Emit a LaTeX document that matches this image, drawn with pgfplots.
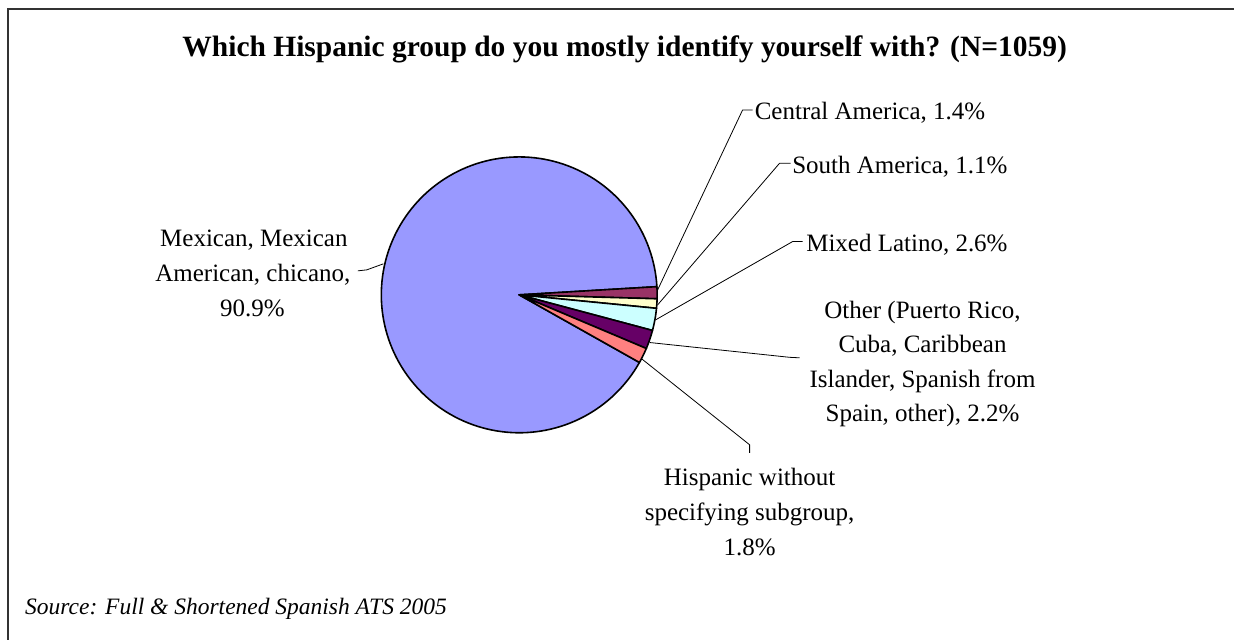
\documentclass[border=0pt]{standalone}
\usepackage{pgfplots}
\pgfplotsset{compat=1.18}
\usepackage{pgfplotstable}
\usepackage{fontspec}
\setmainfont{Liberation Serif}
\definecolor{cMex}{HTML}{9999FF}
\definecolor{cCen}{HTML}{993366}
\definecolor{cSou}{HTML}{FFFFCC}
\definecolor{cMix}{HTML}{CCFFFF}
\definecolor{cOth}{HTML}{660066}
\definecolor{cHis}{HTML}{FF8080}

\pgfplotstableread{
group pct
Mexican 90.9
Central 1.4
South 1.1
Mixed 2.6
Other 2.2
Hispanic 1.8
}\piedata

\begin{document}
\begin{tikzpicture}[lab/.style={font=\fontsize{25}{30}\selectfont, inner sep=0pt}]
\pgfplotstablegetelem{0}{pct}\of\piedata \let\pMex\pgfplotsretval
\pgfplotstablegetelem{1}{pct}\of\piedata \let\pCen\pgfplotsretval
\pgfplotstablegetelem{2}{pct}\of\piedata \let\pSou\pgfplotsretval
\pgfplotstablegetelem{3}{pct}\of\piedata \let\pMix\pgfplotsretval
\pgfplotstablegetelem{4}{pct}\of\piedata \let\pOth\pgfplotsretval
\pgfplotstablegetelem{5}{pct}\of\piedata \let\pHis\pgfplotsretval
\pgfmathsetmacro\aA{3.4}
\pgfmathsetmacro\aB{\aA-3.6*\pCen}
\pgfmathsetmacro\aC{\aB-3.6*\pSou}
\pgfmathsetmacro\aD{\aC-3.6*\pMix}
\pgfmathsetmacro\aE{\aD-3.6*\pOth}
\pgfmathsetmacro\aF{\aE-3.6*\pHis}
\pgfmathsetmacro\aG{\aF-3.6*\pMex}
\def\cx{519.5}\def\cy{345}\def\R{138}
\begin{axis}[x=1pt, y=1pt, xmin=0, xmax=1235, ymin=0, ymax=640,
  hide axis, clip=false]
\path (axis cs:0,0) rectangle (axis cs:1235,640);
\draw[line width=1.3pt, black!80] (axis cs:8,0) -- (axis cs:8,631) -- (axis cs:1235,631);
% pie slices
\addplot[fill=cMex, draw=black, line width=1.6pt, line join=round, domain=\aG:\aF, samples=160, variable=\t]
  ({\cx+\R*cos(\t)},{\cy+\R*sin(\t)}) -- (axis cs:\cx,\cy) -- cycle;
\addplot[fill=cCen, draw=black, line width=1.6pt, line join=round, domain=\aB:\aA, samples=10, variable=\t]
  ({\cx+\R*cos(\t)},{\cy+\R*sin(\t)}) -- (axis cs:\cx,\cy) -- cycle;
\addplot[fill=cSou, draw=black, line width=1.6pt, line join=round, domain=\aC:\aB, samples=10, variable=\t]
  ({\cx+\R*cos(\t)},{\cy+\R*sin(\t)}) -- (axis cs:\cx,\cy) -- cycle;
\addplot[fill=cMix, draw=black, line width=1.6pt, line join=round, domain=\aD:\aC, samples=12, variable=\t]
  ({\cx+\R*cos(\t)},{\cy+\R*sin(\t)}) -- (axis cs:\cx,\cy) -- cycle;
\addplot[fill=cOth, draw=black, line width=1.6pt, line join=round, domain=\aE:\aD, samples=12, variable=\t]
  ({\cx+\R*cos(\t)},{\cy+\R*sin(\t)}) -- (axis cs:\cx,\cy) -- cycle;
\addplot[fill=cHis, draw=black, line width=1.6pt, line join=round, domain=\aF:\aE, samples=10, variable=\t]
  ({\cx+\R*cos(\t)},{\cy+\R*sin(\t)}) -- (axis cs:\cx,\cy) -- cycle;
% leader lines
\draw[line width=0.8pt] (axis cs:658,350) -- (axis cs:743,530) -- (axis cs:753,530);
\draw[line width=0.8pt] (axis cs:658,335) -- (axis cs:780,476.7) -- (axis cs:791,476.7);
\draw[line width=0.8pt] (axis cs:656,320) -- (axis cs:793,398.3) -- (axis cs:803,398.3);
\draw[line width=0.8pt] (axis cs:650,297.3) -- (axis cs:790,282.5) -- (axis cs:800,282);
\draw[line width=0.8pt] (axis cs:642,281) -- (axis cs:750,195) -- (axis cs:750,187);
\draw[line width=0.8pt] (axis cs:383.5,376) -- (axis cs:367,370) -- (axis cs:358,369);
% title
\node[anchor=base, inner sep=0pt, font=\bfseries\fontsize{29.5}{34}\selectfont] at (axis cs:625,583.3)
  {Which Hispanic group do you mostly identify yourself with? (N=1059)};
% labels
\node[lab, anchor=base west] at (axis cs:755,520.7) {Central America, 1.4\%};
\node[lab, anchor=base west] at (axis cs:792.5,466.7) {South America, 1.1\%};
\node[lab, anchor=base west] at (axis cs:806.5,388.3) {Mixed Latino, 2.6\%};
\node[lab, anchor=base] at (axis cs:923,321.7) {Other (Puerto Rico,};
\node[lab, anchor=base] at (axis cs:923,287.2) {Cuba, Caribbean};
\node[lab, anchor=base] at (axis cs:923,252.7) {Islander, Spanish from};
\node[lab, anchor=base] at (axis cs:923,218.5) {Spain, other), 2.2\%};
\node[lab, anchor=base] at (axis cs:750,154) {Hispanic without};
\node[lab, anchor=base] at (axis cs:750,119) {specifying subgroup,};
\node[lab, anchor=base] at (axis cs:750,84.5) {1.8\%};
\node[lab, anchor=base] at (axis cs:254,393) {Mexican, Mexican};
\node[lab, anchor=base] at (axis cs:253,358) {American, chicano,};
\node[lab, anchor=base] at (axis cs:252.5,323) {90.9\%};
\node[anchor=base west, inner sep=0pt, font=\itshape\fontsize{23.5}{28}\selectfont] at (axis cs:25,25)
  {Source: Full \& Shortened Spanish ATS 2005};
\end{axis}
\end{tikzpicture}
\end{document}
